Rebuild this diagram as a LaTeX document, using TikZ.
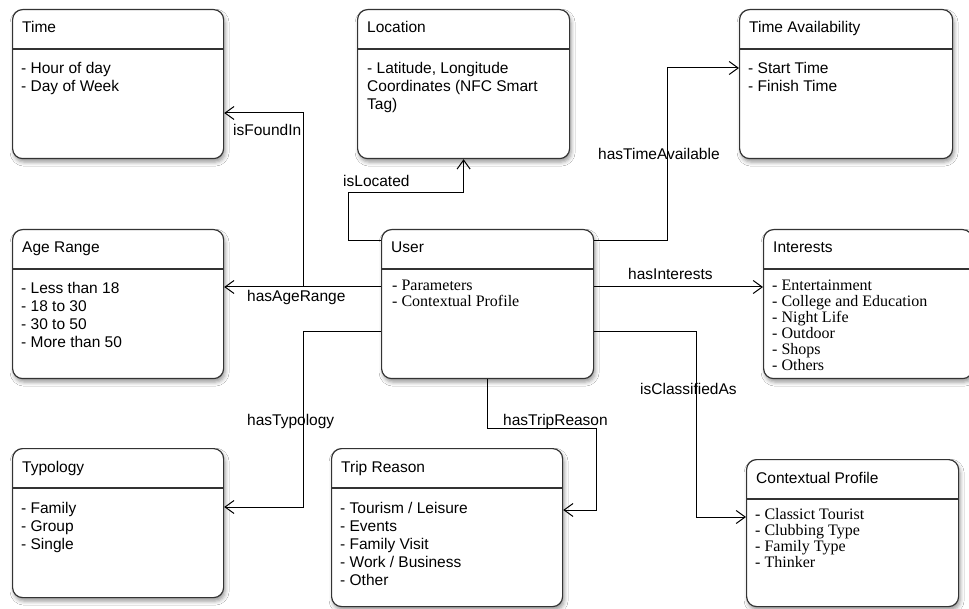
\documentclass[tikz,border=0pt]{standalone}
\usepackage{fontspec}
\setmainfont{Liberation Sans}
\newfontfamily\itemserif{Liberation Serif}
\usetikzlibrary{arrows.meta,shadows.blur}

\begin{document}
\begin{tikzpicture}[x=1pt,y=-1pt,
  entity/.style={draw=black!80, line width=1.2pt, rounded corners=10pt, fill=white,
    inner sep=0pt, anchor=north west,
    blur shadow={shadow xshift=1.5pt, shadow yshift=-3.5pt, shadow blur radius=4pt, shadow opacity=40}},
  divider/.style={draw=black!80, line width=1.2pt},
  ttl/.style={anchor=base west, inner sep=0pt, font=\fontsize{15.5}{18}\selectfont},
  % multi-line lists are anchored at the baseline of their last line
  sansitems/.style={anchor=base west, inner sep=0pt, align=left, font=\fontsize{15.5}{18}\selectfont},
  serifitems/.style={anchor=base west, inner sep=0pt, align=left, font=\itemserif\fontsize{16}{16}\selectfont},
  link/.style={draw=black, line width=1pt, -{Straight Barb[length=9pt,width=13pt]}},
  lbl/.style={anchor=base west, inner sep=0pt, font=\fontsize{15.5}{18}\selectfont}
]
\useasboundingbox[fill=white] (0,0) rectangle (969,609);

% entity boxes
\node[entity, minimum width=211pt, minimum height=149pt] (time) at (12,9) {};
\node[entity, minimum width=212pt, minimum height=149pt] (loc)  at (357,9) {};
\node[entity, minimum width=213pt, minimum height=149pt] (tav)  at (739,9) {};
\node[entity, minimum width=211pt, minimum height=149pt] (age)  at (12,229) {};
\node[entity, minimum width=212pt, minimum height=149pt] (user) at (381,229) {};
\node[entity, minimum width=209pt, minimum height=149pt] (int)  at (763,229) {};
\node[entity, minimum width=211pt, minimum height=149pt] (typ)  at (12,448) {};
\node[entity, minimum width=231pt, minimum height=158pt] (trip) at (331,448) {};
\node[entity, minimum width=212pt, minimum height=147pt] (ctx)  at (746,459) {};

% header separators
\foreach \b in {time,loc,tav,age,user,int,typ,trip,ctx}
  \draw[divider] ([yshift=-40pt]\b.north west) -- ([yshift=-40pt]\b.north east);

% titles
\node[ttl] (timeT) at ([xshift=10pt,yshift=-24pt]time.north west) {Time};
\node[ttl] (locT)  at ([xshift=10pt,yshift=-24pt]loc.north west) {Location};
\node[ttl] (tavT)  at ([xshift=10pt,yshift=-24pt]tav.north west) {Time Availability};
\node[ttl] (ageT)  at ([xshift=10pt,yshift=-24pt]age.north west) {Age Range};
\node[ttl] (userT) at ([xshift=10pt,yshift=-24pt]user.north west) {User};
\node[ttl] (intT)  at ([xshift=10pt,yshift=-24pt]int.north west) {Interests};
\node[ttl] (typT)  at ([xshift=10pt,yshift=-24pt]typ.north west) {Typology};
\node[ttl] (tripT) at ([xshift=10pt,yshift=-24pt]trip.north west) {Trip Reason};
\node[ttl] (ctxT)  at ([xshift=10pt,yshift=-24pt]ctx.north west) {Contextual Profile};

% attribute lists (yshift = first baseline + lines below it)
\node[sansitems] (timeL) at ([xshift=9pt,yshift=-83pt]time.north west) {- Hour of day\\- Day of Week};
\node[sansitems] (locL)  at ([xshift=10pt,yshift=-101pt]loc.north west) {- Latitude, Longitude\\Coordinates (NFC Smart\\Tag)};
\node[sansitems] (tavL)  at ([xshift=9pt,yshift=-83pt]tav.north west) {- Start Time\\- Finish Time};
\node[sansitems] (ageL)  at ([xshift=9pt,yshift=-119pt]age.north west) {- Less than 18\\- 18 to 30\\- 30 to 50\\- More than 50};
\node[serifitems] (userL) at ([xshift=11pt,yshift=-77.5pt]user.north west) {- Parameters\\- Contextual Profile};
\node[serifitems] (intL)  at ([xshift=9pt,yshift=-141.5pt]int.north west) {- Entertainment\\- College and Education\\- Night Life\\- Outdoor\\- Shops\\- Others};
\node[sansitems] (typL)  at ([xshift=9pt,yshift=-101pt]typ.north west) {- Family\\- Group\\- Single};
\node[sansitems] (tripL) at ([xshift=9pt,yshift=-137pt]trip.north west) {- Tourism / Leisure\\- Events\\- Family Visit\\- Work / Business\\- Other};
\node[serifitems] (ctxL)  at ([xshift=9pt,yshift=-108pt]ctx.north west) {- Classict Tourist\\- Clubbing Type\\- Family Type\\- Thinker};

% relations
\draw[link] (user.west |- 0,287) -| (303,113) -- (time.east |- 0,113);
\draw[link] (user.west |- 0,287) -- (age.east |- 0,287);
\draw[link] (user.west |- 0,241) -| (348,193) -| (loc.south);
\draw[link] (user.east |- 0,241) -| (667,68) -- (tav.west |- 0,68);
\draw[link] (user.east |- 0,287) -- (int.west |- 0,287);
\draw[link] (user.west |- 0,332) -| (303,507) -- (typ.east |- 0,507);
\draw[link] (user.south) |- (596,428) |- (trip.east |- 0,510);
\draw[link] (user.east |- 0,332) -| (696,517) -- (ctx.west |- 0,517);

% relation labels
\node[lbl] (lFound) at (233,136) {isFoundIn};
\node[lbl] (lLoc)   at (343,187) {isLocated};
\node[lbl] (lTime)  at (598,160) {hasTimeAvailable};
\node[lbl] (lAge)   at (247,302) {hasAgeRange};
\node[lbl] (lInt)   at (628,280) {hasInterests};
\node[lbl] (lTyp)   at (247,425) {hasTypology};
\node[lbl] (lTrip)  at (503,425) {hasTripReason};
\node[lbl] (lCls)   at (640,395) {isClassifiedAs};
\end{tikzpicture}
\end{document}
